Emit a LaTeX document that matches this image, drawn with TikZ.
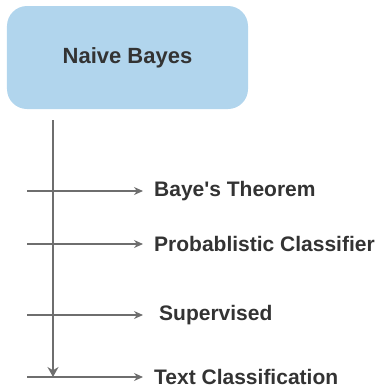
\documentclass[tikz,border=0pt]{standalone}
\usepackage{fontspec}
\setmainfont{Liberation Sans}
\usetikzlibrary{arrows.meta}
\definecolor{boxblue}{RGB}{177,213,237}
\definecolor{txtgray}{RGB}{51,51,51}
\definecolor{linegray}{RGB}{110,110,110}

\begin{document}
\begin{tikzpicture}[
    x = 1bp,
    y = -1bp,
    >={Stealth[length=9bp,width=8bp]},
    topic/.style = {rounded corners=20bp, fill=boxblue, minimum width=241bp,
              minimum height=103bp, font=\fontsize{22bp}{26bp}\selectfont\bfseries,
              text=txtgray},
    item/.style = {anchor=west, inner xsep=11bp, inner ysep=0pt,
              font=\fontsize{21bp}{26bp}\selectfont\bfseries, text=txtgray},
    link/.style = {linegray, line width=1.2bp},
    ]

\useasboundingbox (0,0) rectangle (385,391);

\node[topic] (naive_bayes) at (127.5,57.5){Naive Bayes};

\coordinate (trunk_top) at (53,120);
\coordinate (trunk_end) at (53,377);

\coordinate (start_1) at (27,191);
\coordinate (start_2) at (27,244);
\coordinate (start_3) at (27,315);
\coordinate (start_4) at (27,377);

\node[item] (item_1) at (143,191){Baye\textquotesingle s Theorem};
\node[item] (item_2) at (143,244){Probablistic Classifier};
\node[item, inner xsep=16bp] (item_3) at (143,315){Supervised};
\node[item] (item_4) at (143,377){Text Classification};

\draw [->, link] (start_1) -- (item_1.west);
\draw [->, link] (start_2) -- (item_2.west);
\draw [->, link] (start_3) -- (item_3.west);
\draw [->, link] (start_4) -- (item_4.west);
\draw [-{Stealth[length=10bp,width=11bp]}, link] (trunk_top) -- (trunk_end);

\end{tikzpicture}
\end{document}
